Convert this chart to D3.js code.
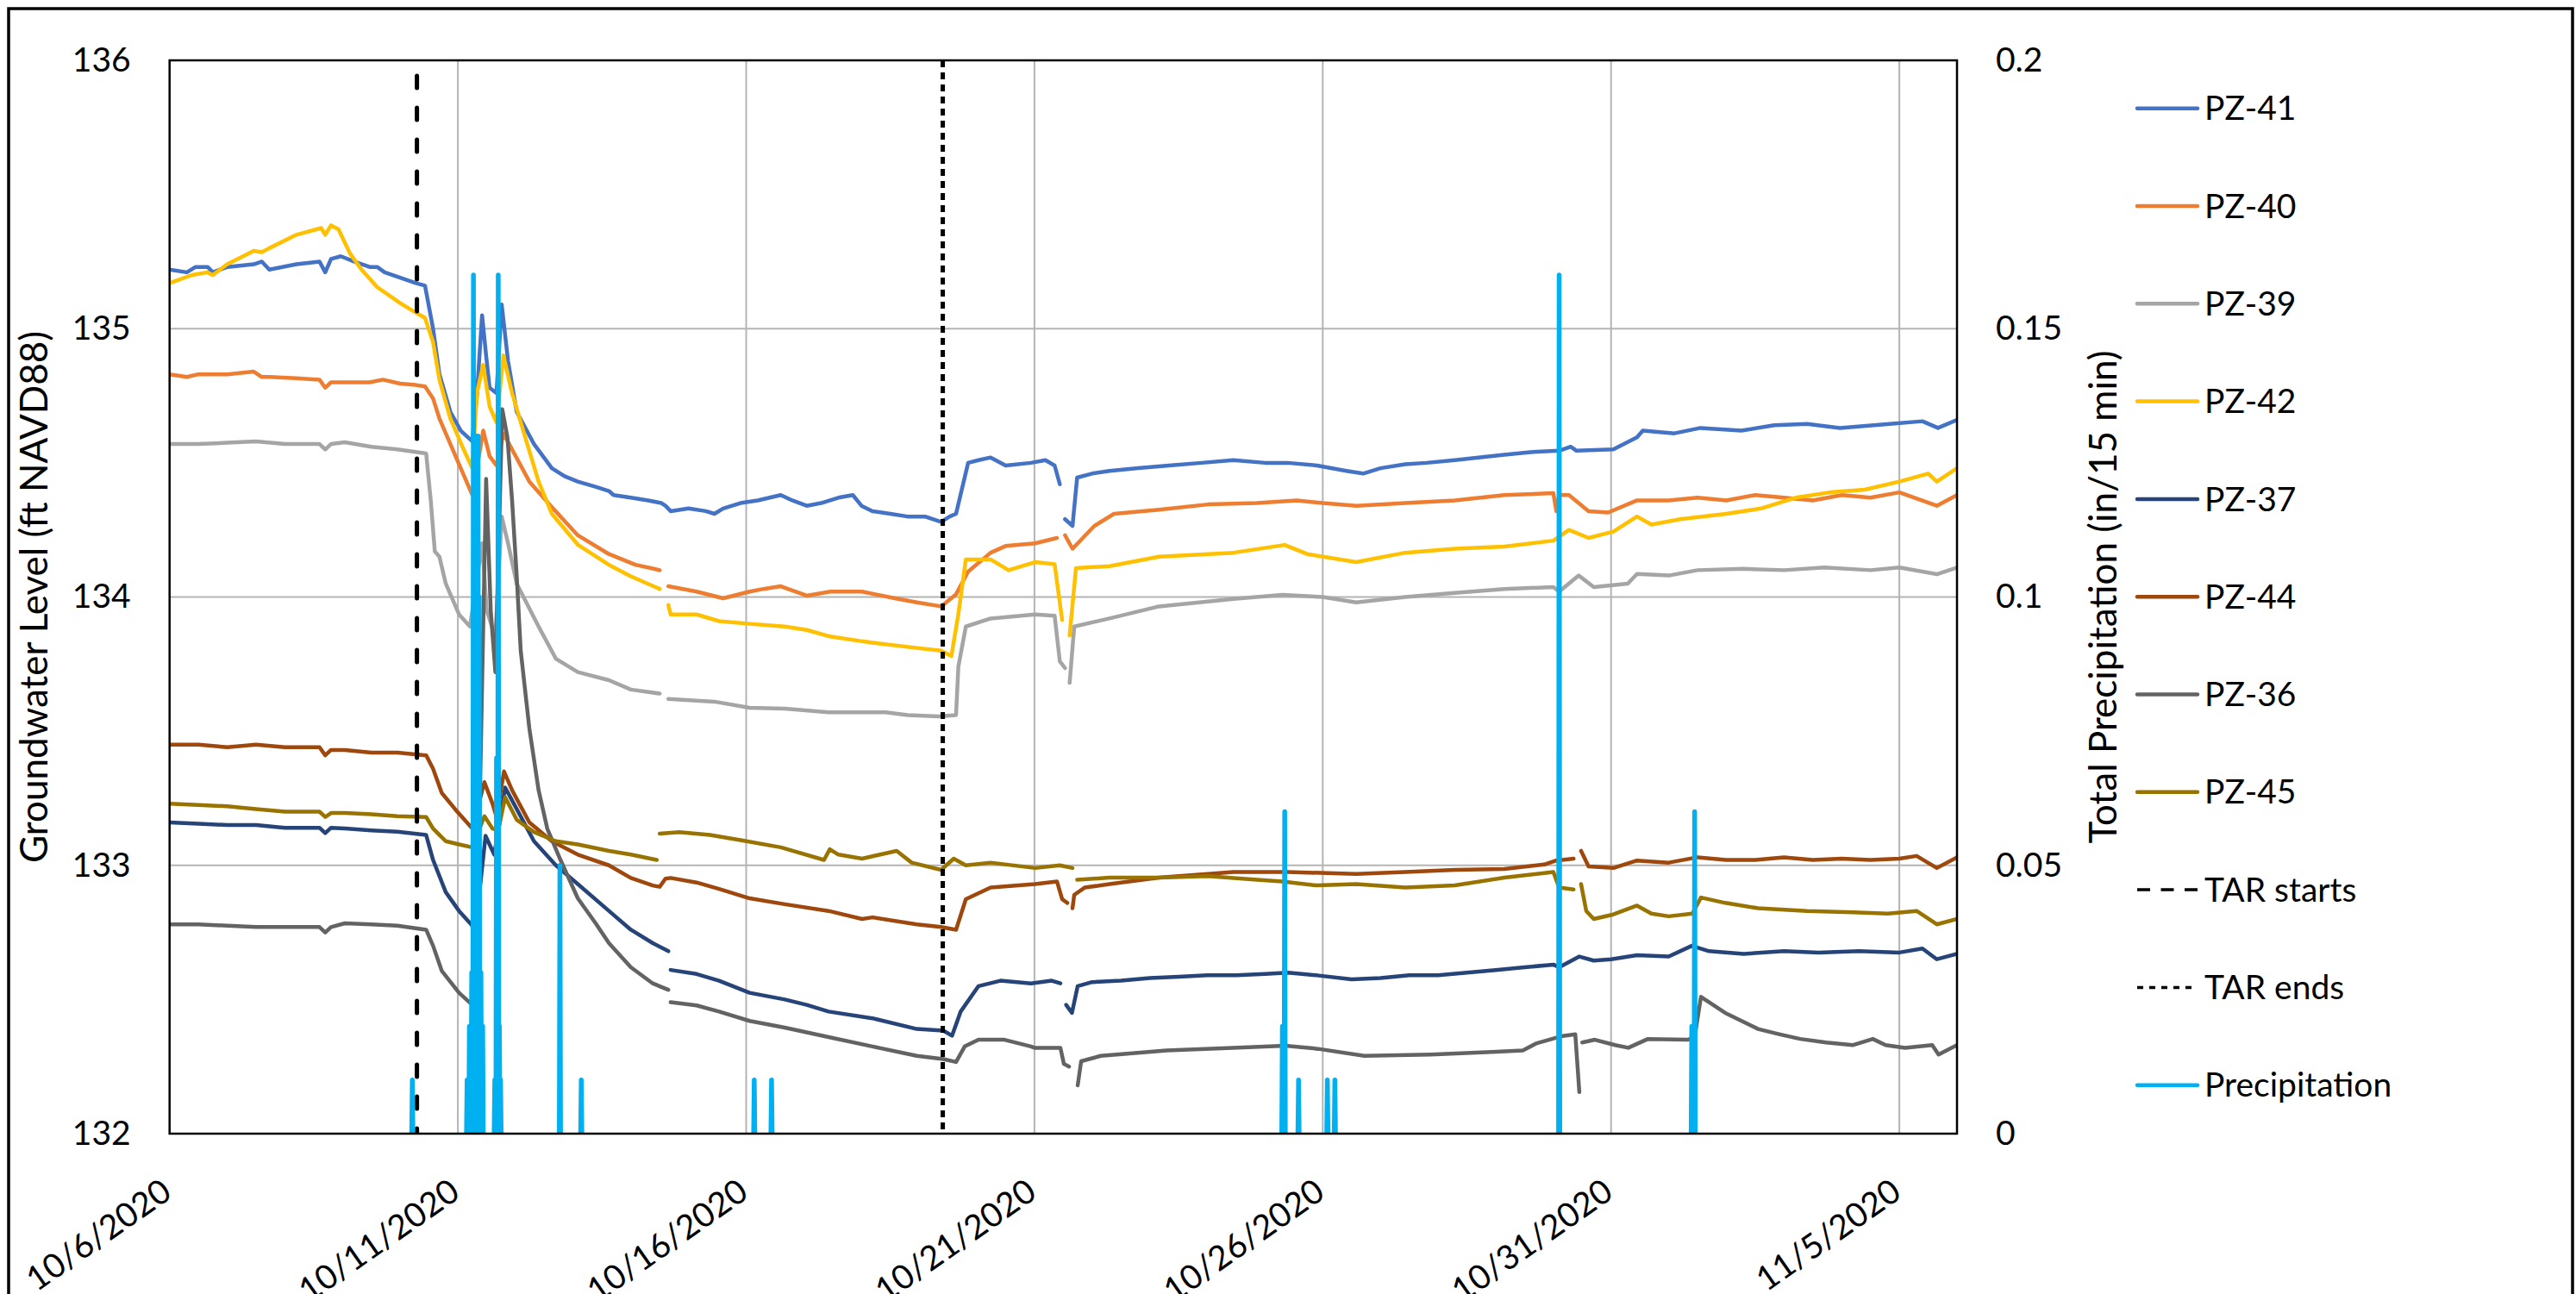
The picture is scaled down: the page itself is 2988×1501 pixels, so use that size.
<!DOCTYPE html>
<html><head><meta charset="utf-8">
<script src="https://cdn.jsdelivr.net/npm/d3@7"></script>
<style>
body{margin:0;background:#fff;}
svg{display:block;font-family:Lato,"Open Sans",sans-serif;}
</style></head><body>
<svg id="chart" width="2988" height="1501"></svg>
<script>
// ---------- DATA (days after 10/6/2020, value) ----------
const xTickLabels = ["10/6/2020","10/11/2020","10/16/2020","10/21/2020","10/26/2020","10/31/2020","11/5/2020"];
const leftTicks = [132,133,134,135,136];
const rightTicks = [0,0.05,0.1,0.15,0.2];
const seriesNames = ["PZ-41","PZ-40","PZ-39","PZ-42","PZ-37","PZ-44","PZ-36","PZ-45"];
const seriesColors = ["#4472C4","#ED7D31","#A5A5A5","#FFC000","#264478","#9E480E","#636363","#997300"];

const pz41 = [[0,135.22],[0.3,135.21],[0.45,135.23],[0.66,135.23],[0.75,135.21],[1.0,135.23],[1.46,135.24],[1.6,135.25],[1.73,135.22],[2.2,135.24],[2.6,135.25],[2.7,135.21],[2.8,135.26],[2.97,135.27],[3.2,135.25],[3.47,135.23],[3.6,135.23],[3.73,135.21],[4.0,135.19],[4.27,135.17],[4.43,135.16],[4.57,135.0],[4.68,134.83],[4.87,134.69],[5.05,134.62],[5.25,134.58],[5.33,134.75],[5.42,135.05],[5.49,134.9],[5.55,134.78],[5.67,134.76],[5.76,135.09],[5.87,134.88],[6.02,134.69],[6.32,134.57],[6.63,134.48],[6.85,134.45],[7.08,134.43],[7.4,134.41],[7.62,134.395],[7.7,134.38],[8.0,134.37],[8.3,134.36],[8.53,134.35],[8.6,134.34],[8.69,134.32],[9.0,134.33],[9.3,134.32],[9.45,134.31],[9.6,134.33],[9.9,134.35],[10.2,134.36],[10.6,134.38],[10.8,134.36],[11.05,134.34],[11.3,134.35],[11.6,134.37],[11.85,134.38],[12.0,134.34],[12.19,134.32],[12.5,134.31],[12.8,134.30],[13.1,134.30],[13.38,134.28],[13.53,134.30],[13.64,134.31],[13.85,134.50],[14.03,134.51],[14.24,134.52],[14.5,134.49],[14.94,134.50],[15.19,134.51],[15.35,134.49],[15.44,134.42],[15.48,null],[15.53,134.29],[15.66,134.265],[15.74,134.445],[16.0,134.46],[16.3,134.47],[16.8,134.48],[17.33,134.49],[17.9,134.50],[18.45,134.51],[19.0,134.50],[19.39,134.50],[19.9,134.49],[20.41,134.47],[20.7,134.46],[21.0,134.48],[21.43,134.495],[21.8,134.50],[22.29,134.51],[22.7,134.52],[23.15,134.53],[23.6,134.54],[24.1,134.545],[24.3,134.56],[24.4,134.545],[25.04,134.55],[25.45,134.595],[25.55,134.62],[26.1,134.61],[26.55,134.63],[27.26,134.62],[27.83,134.64],[28.4,134.645],[28.97,134.63],[29.83,134.645],[30.4,134.655],[30.67,134.63],[31.0,134.66]];

const pz40 = [[0,134.83],[0.3,134.82],[0.5,134.83],[1.0,134.83],[1.46,134.84],[1.6,134.82],[1.73,134.82],[2.2,134.815],[2.6,134.81],[2.7,134.78],[2.8,134.80],[3.2,134.80],[3.47,134.80],[3.7,134.81],[4.0,134.795],[4.27,134.79],[4.43,134.785],[4.57,134.74],[4.68,134.665],[4.87,134.57],[5.1,134.455],[5.25,134.38],[5.44,134.62],[5.55,134.525],[5.67,134.49],[5.79,134.61],[5.94,134.55],[6.24,134.43],[6.63,134.335],[7.08,134.23],[7.62,134.16],[8.08,134.12],[8.4,134.105],[8.5,134.10],[8.58,null],[8.65,134.04],[9.14,134.02],[9.6,133.995],[10.06,134.02],[10.3,134.03],[10.6,134.04],[11.05,134.005],[11.46,134.02],[11.89,134.02],[12.01,134.02],[12.58,133.995],[12.96,133.98],[13.38,133.965],[13.64,134.01],[13.85,134.095],[14.24,134.165],[14.5,134.19],[15.01,134.2],[15.39,134.22],[15.45,null],[15.53,134.23],[15.66,134.18],[16.04,134.265],[16.38,134.31],[17.16,134.325],[18.01,134.345],[18.86,134.35],[19.55,134.36],[20.0,134.35],[20.58,134.34],[21.43,134.35],[22.29,134.36],[23.15,134.38],[24.0,134.387],[24.05,134.32],[24.1,134.38],[24.27,134.38],[24.61,134.32],[24.95,134.315],[25.45,134.36],[26.0,134.36],[26.5,134.37],[27,134.36],[27.5,134.38],[28,134.37],[28.5,134.36],[29,134.38],[29.5,134.37],[30,134.39],[30.65,134.34],[31,134.38]];

const pz39 = [[0,134.57],[0.5,134.57],[1.0,134.575],[1.5,134.58],[2.0,134.57],[2.6,134.57],[2.7,134.55],[2.8,134.57],[3.04,134.577],[3.5,134.56],[3.95,134.55],[4.45,134.535],[4.53,134.36],[4.6,134.17],[4.68,134.15],[4.79,134.05],[5.02,133.935],[5.21,133.89],[5.42,134.2],[5.5,133.95],[5.65,133.85],[5.76,134.3],[5.87,134.2],[6.02,134.05],[6.4,133.89],[6.7,133.77],[7.08,133.72],[7.62,133.69],[8.0,133.655],[8.5,133.64],[8.58,null],[8.65,133.62],[9.45,133.61],[10.06,133.587],[10.67,133.584],[11.43,133.57],[12.01,133.57],[12.42,133.57],[12.8,133.56],[13.34,133.555],[13.64,133.56],[13.68,133.74],[13.81,133.89],[14.24,133.92],[15.01,133.935],[15.35,133.93],[15.44,133.76],[15.53,133.735],[15.57,null],[15.61,133.68],[15.69,133.89],[16.3,133.92],[17.16,133.965],[18.45,133.993],[19.3,134.008],[20.0,134.0],[20.58,133.98],[21.43,134.0],[22.29,134.015],[23.15,134.03],[24.0,134.037],[24.1,134.02],[24.44,134.08],[24.7,134.037],[25.29,134.05],[25.45,134.086],[26,134.08],[26.5,134.10],[27.3,134.105],[28,134.10],[28.7,134.11],[29.5,134.10],[30,134.11],[30.65,134.085],[31,134.11]];

const pz42 = [[0,135.17],[0.39,135.20],[0.66,135.21],[0.75,135.20],[1.0,135.24],[1.46,135.29],[1.6,135.285],[1.73,135.30],[2.2,135.35],[2.63,135.375],[2.7,135.35],[2.8,135.385],[2.93,135.37],[3.13,135.28],[3.33,135.22],[3.6,135.155],[4.0,135.095],[4.27,135.06],[4.43,135.04],[4.57,134.95],[4.68,134.81],[4.87,134.665],[5.1,134.55],[5.25,134.48],[5.33,134.76],[5.44,134.865],[5.55,134.71],[5.67,134.65],[5.79,134.90],[5.94,134.76],[6.17,134.594],[6.4,134.43],[6.63,134.31],[7.08,134.195],[7.62,134.12],[8.0,134.077],[8.5,134.03],[8.58,null],[8.65,133.97],[8.69,133.935],[9.14,133.935],[9.53,133.91],[10.06,133.90],[10.67,133.89],[11.05,133.877],[11.43,133.854],[12.01,133.835],[12.19,133.83],[12.96,133.81],[13.38,133.80],[13.56,133.78],[13.68,133.936],[13.81,134.14],[14.24,134.14],[14.55,134.10],[15.01,134.13],[15.35,134.122],[15.48,133.915],[15.54,null],[15.61,133.857],[15.72,134.108],[16.3,134.115],[17.16,134.15],[18.45,134.165],[19.34,134.194],[19.73,134.16],[20.58,134.13],[21.43,134.165],[22.29,134.18],[23.15,134.188],[24.0,134.21],[24.27,134.25],[24.61,134.22],[25.04,134.244],[25.45,134.30],[25.7,134.27],[26.2,134.29],[27.0,134.31],[27.6,134.33],[28.2,134.37],[28.8,134.39],[29.4,134.40],[30.0,134.43],[30.5,134.46],[30.65,134.43],[31,134.48]];

const pz37 = [[0,133.16],[0.5,133.155],[1.0,133.15],[1.5,133.15],[2.0,133.14],[2.6,133.14],[2.7,133.12],[2.8,133.14],[3.04,133.137],[3.5,133.13],[3.95,133.125],[4.45,133.113],[4.57,133.02],[4.79,132.90],[5.02,132.83],[5.21,132.785],[5.3,132.76],[5.4,132.95],[5.48,133.11],[5.63,133.04],[5.82,133.29],[6.02,133.21],[6.32,133.09],[6.7,133.00],[7.08,132.93],[7.62,132.83],[8.0,132.76],[8.38,132.71],[8.65,132.68],[8.67,null],[8.69,132.61],[9.14,132.595],[9.53,132.57],[10.06,132.525],[10.67,132.50],[11.05,132.48],[11.43,132.455],[12.19,132.43],[12.96,132.39],[13.42,132.384],[13.57,132.365],[13.72,132.455],[14.03,132.55],[14.41,132.57],[14.94,132.56],[15.3,132.57],[15.45,132.56],[15.5,null],[15.55,132.48],[15.65,132.45],[15.75,132.55],[16.0,132.565],[16.5,132.57],[17.0,132.58],[17.5,132.585],[18.0,132.59],[18.5,132.59],[19.0,132.595],[19.4,132.60],[19.9,132.59],[20.5,132.575],[21.0,132.58],[21.5,132.59],[22.0,132.59],[22.5,132.60],[23.0,132.61],[23.5,132.62],[24.0,132.63],[24.1,132.62],[24.45,132.66],[24.7,132.645],[25.0,132.65],[25.45,132.665],[26.0,132.66],[26.4,132.70],[26.7,132.68],[27.3,132.67],[28,132.68],[28.6,132.675],[29.3,132.68],[30.0,132.675],[30.4,132.69],[30.65,132.65],[31,132.67]];

const pz44 = [[0,133.45],[0.5,133.45],[1.0,133.44],[1.5,133.45],[2.0,133.44],[2.6,133.44],[2.7,133.41],[2.8,133.43],[3.04,133.43],[3.5,133.42],[3.95,133.42],[4.45,133.41],[4.57,133.36],[4.72,133.27],[4.95,133.21],[5.25,133.137],[5.46,133.31],[5.6,133.23],[5.67,133.18],[5.8,133.35],[5.94,133.28],[6.24,133.16],[6.63,133.09],[7.08,133.04],[7.62,133.0],[8.0,132.953],[8.38,132.925],[8.5,132.92],[8.6,132.95],[8.69,132.953],[9.14,132.936],[9.53,132.912],[10.06,132.877],[10.67,132.855],[11.43,132.83],[12.01,132.80],[12.19,132.806],[12.96,132.78],[13.38,132.77],[13.64,132.76],[13.81,132.874],[14.24,132.917],[15.01,132.93],[15.39,132.94],[15.48,132.874],[15.57,132.86],[15.6,null],[15.66,132.84],[15.69,132.89],[15.87,132.917],[16.3,132.93],[17.16,132.954],[18.45,132.975],[19.39,132.975],[20.58,132.968],[21.43,132.975],[22.29,132.983],[23.15,132.986],[23.84,133.003],[24.05,133.018],[24.35,133.025],[24.42,null],[24.48,133.054],[24.61,132.996],[25.04,132.99],[25.45,133.018],[26.0,133.01],[26.5,133.03],[27.0,133.02],[27.5,133.02],[28,133.03],[28.5,133.02],[29,133.025],[29.5,133.02],[30.0,133.025],[30.3,133.035],[30.65,132.99],[31,133.03]];

const pz36 = [[0,132.78],[0.5,132.78],[1.0,132.775],[1.5,132.77],[2.0,132.77],[2.6,132.77],[2.7,132.75],[2.8,132.77],[3.04,132.784],[3.5,132.78],[3.95,132.775],[4.45,132.76],[4.57,132.70],[4.72,132.607],[5.02,132.525],[5.25,132.48],[5.35,132.9],[5.49,134.44],[5.57,133.95],[5.65,133.72],[5.77,134.70],[5.86,134.594],[5.94,134.36],[6.02,134.08],[6.09,133.80],[6.24,133.51],[6.4,133.28],[6.55,133.137],[6.78,133.02],[7.08,132.877],[7.39,132.784],[7.62,132.71],[8.0,132.62],[8.38,132.56],[8.65,132.536],[8.67,null],[8.69,132.49],[9.14,132.478],[9.53,132.455],[10.06,132.42],[10.67,132.395],[11.43,132.36],[12.19,132.325],[12.96,132.29],[13.42,132.278],[13.64,132.267],[13.79,132.325],[14.03,132.35],[14.48,132.35],[14.94,132.325],[15.0,132.32],[15.45,132.32],[15.51,132.26],[15.6,132.25],[15.65,null],[15.75,132.18],[15.81,132.27],[16.15,132.29],[17.29,132.31],[18.44,132.32],[19.35,132.328],[19.92,132.316],[20.72,132.29],[21.87,132.295],[23.01,132.305],[23.47,132.31],[23.7,132.336],[24.16,132.364],[24.38,132.37],[24.45,132.155],[24.47,null],[24.5,132.34],[24.72,132.35],[25.07,132.33],[25.3,132.32],[25.64,132.353],[26.33,132.35],[26.45,132.36],[26.56,132.51],[26.98,132.45],[27.55,132.39],[27.93,132.37],[28.28,132.353],[28.73,132.34],[29.19,132.33],[29.54,132.353],[29.76,132.33],[30.1,132.32],[30.57,132.33],[30.68,132.295],[31.0,132.33]];

const pz45 = [[0,133.23],[0.5,133.225],[1.0,133.22],[1.5,133.21],[2.0,133.20],[2.6,133.20],[2.7,133.18],[2.8,133.195],[3.04,133.195],[3.5,133.19],[3.95,133.183],[4.45,133.18],[4.57,133.137],[4.79,133.09],[5.02,133.078],[5.25,133.067],[5.46,133.183],[5.6,133.137],[5.7,133.13],[5.82,133.254],[6.02,133.17],[6.32,133.124],[6.7,133.09],[7.08,133.078],[7.62,133.054],[8.0,133.04],[8.45,133.02],[8.48,null],[8.5,133.118],[8.84,133.124],[9.37,133.113],[9.9,133.094],[10.6,133.067],[11.35,133.02],[11.45,133.06],[11.6,133.04],[12.01,133.025],[12.61,133.054],[12.87,133.01],[13.38,132.983],[13.6,133.025],[13.81,133.0],[14.24,133.01],[15.01,132.99],[15.44,133.0],[15.66,132.99],[15.7,null],[15.74,132.946],[16.3,132.954],[17.16,132.954],[18.01,132.96],[18.86,132.946],[19.3,132.94],[19.9,132.925],[20.58,132.93],[21.43,132.917],[22.29,132.925],[23.15,132.954],[24.0,132.975],[24.1,132.917],[24.35,132.91],[24.42,null],[24.48,132.93],[24.57,132.83],[24.7,132.80],[25.04,132.817],[25.45,132.85],[25.7,132.82],[26.0,132.81],[26.41,132.82],[26.56,132.88],[26.98,132.86],[27.55,132.84],[28.4,132.83],[29.2,132.825],[29.8,132.82],[30.3,132.83],[30.65,132.78],[31,132.80]];

const precipDays = [4.21,5.16,5.20,5.24,5.27,5.29,5.31,5.33,5.35,5.37,5.40,5.43,5.64,5.67,5.70,5.72,5.74,6.77,7.14,10.14,10.44,19.30,19.34,19.58,20.08,20.21,24.10,26.40,26.45];
const precipValues = [0.01,0.01,0.02,0.03,0.16,0.12,0.13,0.11,0.13,0.10,0.03,0.02,0.01,0.07,0.16,0.02,0.01,0.05,0.01,0.01,0.01,0.02,0.06,0.01,0.01,0.01,0.16,0.02,0.06];

const tarStartDay = 4.29;
const tarEndDay = 13.41;

// ---------- CHART ----------
const svg = d3.select("#chart");
const M = {left:196.7, right:2270, top:70, bottom:1315};
const t0 = Date.UTC(2020,9,6);
const toDate = d => new Date(t0 + d*864e5);
const parseTick = d3.utcParse("%m/%d/%Y");
const xTickDates = xTickLabels.map(s => parseTick(s));

const x = d3.scaleUtc().domain([toDate(0), toDate(31)]).range([M.left, M.right]);
const y = d3.scaleLinear().domain([132,136]).range([M.bottom, M.top]);
const y2 = d3.scaleLinear().domain([0,0.2]).range([M.bottom, M.top]);

// outer chart border
svg.append("rect").attr("x",10).attr("y",10).attr("width",2974).attr("height",1600)
  .attr("fill","none").attr("stroke","#000").attr("stroke-width",3.5);

// gridlines
const grid = svg.append("g");
grid.selectAll("line.h").data(leftTicks.slice(1,-1)).join("line")
  .attr("x1",M.left).attr("x2",M.right).attr("y1",d=>y(d)).attr("y2",d=>y(d))
  .attr("stroke","#b4b4b4").attr("stroke-width",2);
grid.selectAll("line.v").data(xTickDates.slice(1)).join("line")
  .attr("y1",M.top).attr("y2",M.bottom).attr("x1",d=>x(d)).attr("x2",d=>x(d))
  .attr("stroke","#b4b4b4").attr("stroke-width",2);

// series
const allSeries = [pz41,pz40,pz39,pz42,pz37,pz44,pz36,pz45];
const line = d3.line().defined(d=>d[1]!==null).x(d=>x(toDate(d[0]))).y(d=>y(d[1]));
const clip = svg.append("clipPath").attr("id","pc").append("rect")
  .attr("x",M.left).attr("y",M.top).attr("width",M.right-M.left).attr("height",M.bottom-M.top);
const plot = svg.append("g").attr("clip-path","url(#pc)");
allSeries.forEach((s,i)=>{
  plot.append("path").datum(s).attr("d",line).attr("fill","none")
    .attr("stroke",seriesColors[i]).attr("stroke-width",4.5)
    .attr("stroke-linejoin","round").attr("stroke-linecap","round");
});

// TAR lines
plot.append("line").attr("x1",x(toDate(tarStartDay))).attr("x2",x(toDate(tarStartDay)))
  .attr("y1",88).attr("y2",M.bottom).attr("stroke","#000").attr("stroke-width",5)
  .attr("stroke-dasharray","14,23").attr("stroke-linecap","round");
plot.append("line").attr("x1",x(toDate(tarEndDay))).attr("x2",x(toDate(tarEndDay)))
  .attr("y1",M.top).attr("y2",M.bottom).attr("stroke","#000").attr("stroke-width",5)
  .attr("stroke-dasharray","8,6");

// precipitation spikes
const precip = precipDays.map((d,i)=>[d,precipValues[i]]);
const dt = 15/1440;
const pline = d3.line().x(d=>x(toDate(d[0]))).y(d=>y2(d[1]));
precip.forEach(p=>{
  plot.append("path").datum([[p[0]-dt,0],p,[p[0]+dt,0]]).attr("d",pline)
    .attr("fill","none").attr("stroke","#00B0F0").attr("stroke-width",5.5)
    .attr("stroke-linejoin","round").attr("stroke-linecap","round");
});

// plot frame
svg.append("rect").attr("x",M.left).attr("y",M.top).attr("width",M.right-M.left).attr("height",M.bottom-M.top)
  .attr("fill","none").attr("stroke","#000").attr("stroke-width",2.5);

// axes
const fs = 39;
const gL = svg.append("g").attr("transform",`translate(${M.left},0)`)
  .call(d3.axisLeft(y).tickValues(leftTicks).tickSize(0).tickPadding(45).tickFormat(d3.format("d")));
const gR = svg.append("g").attr("transform",`translate(${M.right},0)`)
  .call(d3.axisRight(y2).tickValues(rightTicks).tickSize(0).tickPadding(45).tickFormat(d=>d===0?"0":String(d)));
const fmt = d3.utcFormat("%-m/%-d/%Y");
const gB = svg.append("g").attr("transform",`translate(0,${M.bottom})`)
  .call(d3.axisBottom(x).tickValues(xTickDates).tickSize(0).tickFormat(fmt));
[gL,gR,gB].forEach(g=>{
  g.select(".domain").remove();
  g.selectAll("text").attr("font-family","Lato").attr("font-size",fs).attr("fill","#000");
});
gB.selectAll("text").attr("text-anchor","end").attr("dy",null).attr("y",0)
  .attr("transform","translate(4,73) rotate(-35)");

// axis titles
svg.append("text").attr("transform",`translate(40,${(M.top+M.bottom)/2}) rotate(-90)`)
  .attr("text-anchor","middle").attr("dy","0.35em").attr("font-size",44).text("Groundwater Level (ft NAVD88)");
svg.append("text").attr("transform",`translate(2440,${(M.top+M.bottom)/2}) rotate(-90)`)
  .attr("text-anchor","middle").attr("dy","0.35em").attr("font-size",44).text("Total Precipitation (in/15 min)");

// legend
const legendItems = seriesNames.map((n,i)=>({name:n,color:seriesColors[i],dash:null,w:4.5}))
  .concat([{name:"TAR starts",color:"#000",dash:"15,12.5",w:3.5},
           {name:"TAR ends",color:"#000",dash:"7,7",w:3.5},
           {name:"Precipitation",color:"#00B0F0",dash:null,w:4.5}]);
const lg = svg.append("g");
legendItems.forEach((it,i)=>{
  const yy = 125.7 + i*113.3;
  lg.append("line").attr("x1",2479).attr("x2",2549).attr("y1",yy).attr("y2",yy)
    .attr("stroke",it.color).attr("stroke-width",it.w)
    .attr("stroke-dasharray",it.dash).attr("stroke-linecap",it.dash?"butt":"round");
  lg.append("text").attr("x",2557).attr("y",yy).attr("dy","0.35em").attr("font-size",fs).text(it.name);
});
</script>
</body></html>
